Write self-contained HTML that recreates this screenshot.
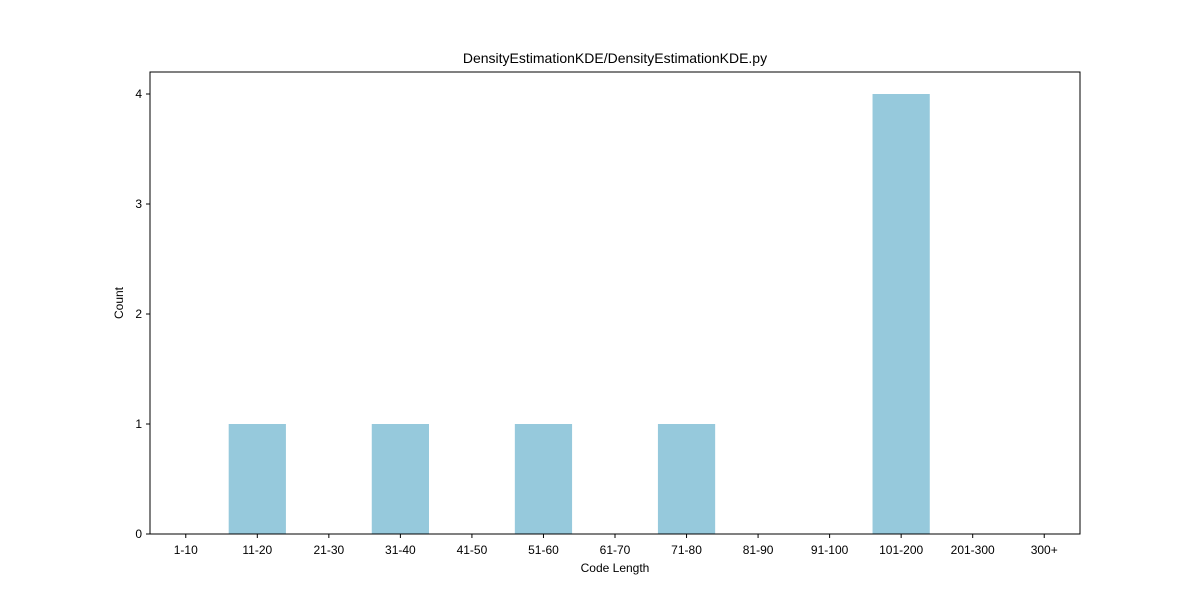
<!DOCTYPE html>
<html><head><meta charset="utf-8"><style>
body{margin:0;background:#fff;}
svg text{font-family:"Liberation Sans",sans-serif;fill:#000;}
</style></head><body>
<svg id="chart" width="1200" height="600">
<rect width="1200" height="600" fill="#fff"/>
<text x="615" y="63" font-size="14" text-anchor="middle">DensityEstimationKDE/DensityEstimationKDE.py</text>
<g id="bars"></g>
<g id="xticks"></g>
<g id="yticks"></g>
<rect x="150" y="72" width="930" height="462" fill="none" stroke="#000" stroke-width="1"/>
<text x="615" y="572" font-size="12" text-anchor="middle">Code Length</text>
<text x="123" y="303" font-size="12" text-anchor="middle" transform="rotate(-90 123 303)">Count</text>
</svg>
<script>
const categories=["1-10","11-20","21-30","31-40","41-50","51-60","61-70","71-80","81-90","91-100","101-200","201-300","300+"];
const counts=[0,1,0,1,0,1,0,1,0,0,4,0,0];
const yTicks=[0,1,2,3,4];
const L=150,R=1080,T=72,B=534,yMax=4.2;
const step=(R-L)/categories.length;
const xs=i=>L+step*(i+0.5);
const ys=v=>B-(v/yMax)*(B-T);
const NS="http://www.w3.org/2000/svg";
const bars=document.getElementById('bars'),xt=document.getElementById('xticks'),yt=document.getElementById('yticks');
categories.forEach((c,i)=>{
 const bw=step*0.8;
 const r=document.createElementNS(NS,'rect');
 r.setAttribute('x',xs(i)-bw/2);r.setAttribute('y',ys(counts[i]));
 r.setAttribute('width',bw);r.setAttribute('height',B-ys(counts[i]));
 r.setAttribute('fill','#96c9dc');
 
 
 bars.appendChild(r);
 const l=document.createElementNS(NS,'line');
 l.setAttribute('x1',xs(i));l.setAttribute('x2',xs(i));l.setAttribute('y1',B);l.setAttribute('y2',B+4);l.setAttribute('stroke','#000');
 
 
 xt.appendChild(l);
 const t=document.createElementNS(NS,'text');
 t.setAttribute('x',xs(i));t.setAttribute('y',B+20);t.setAttribute('font-size','12');t.setAttribute('text-anchor','middle');
 t.textContent=c;
 
 
 xt.appendChild(t);
});
yTicks.forEach(v=>{
 const l=document.createElementNS(NS,'line');
 l.setAttribute('x1',L-4);l.setAttribute('x2',L);l.setAttribute('y1',ys(v));l.setAttribute('y2',ys(v));l.setAttribute('stroke','#000');
 
 
 yt.appendChild(l);
 const t=document.createElementNS(NS,'text');
 t.setAttribute('x',L-8);t.setAttribute('y',ys(v)+4);t.setAttribute('font-size','12');t.setAttribute('text-anchor','end');
 t.textContent=v;
 
 
 yt.appendChild(t);
});
</script>
</body></html>
